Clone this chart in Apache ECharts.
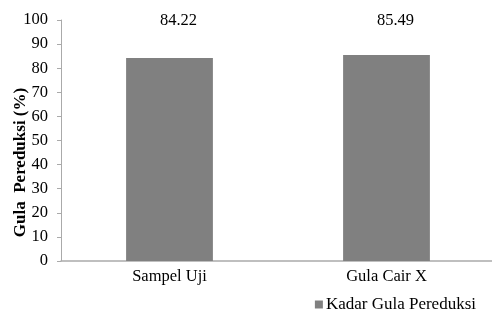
<!DOCTYPE html>
<html><head><meta charset="utf-8">
<script src="https://cdn.jsdelivr.net/npm/echarts@6/dist/echarts.min.js"></script>
<style>html,body{margin:0;padding:0;background:#fff}#c{width:492px;height:318px}</style>
</head><body><div id="c"></div>
<script>
var categories = ['Sampel Uji', 'Gula Cair X'];
var values = [84.22, 85.49];
var yTicks = [0, 10, 20, 30, 40, 50, 60, 70, 80, 90, 100];
var seriesName = 'Kadar Gula Pereduksi';
var yMax = yTicks[yTicks.length - 1];

var chart = echarts.init(document.getElementById('c'));
var font = 'Liberation Serif, Times New Roman, serif';
chart.setOption({
  animation: false,
  textStyle: {fontFamily: font},
  grid: {left: 61, top: 20, width: 434, height: 241, containLabel: false, outerBoundsMode: 'none'},
  legend: {
    data: [seriesName], right: 11, top: 291, itemWidth: 8, itemHeight: 8, itemGap: 4,
    icon: 'rect',
    textStyle: {fontFamily: font, fontSize: 17, color: '#000', padding: [0, 0, 0, -2]}
  },
  xAxis: {
    type: 'category', data: categories,
    axisLine: {lineStyle: {color: '#aaa', width: 1.5}},
    axisTick: {show: false},
    axisLabel: {color: '#000', fontFamily: font, fontSize: 16.5, margin: 7}
  },
  yAxis: {
    type: 'value', min: 0, max: yMax, interval: 10,
    name: 'Gula  Pereduksi (%)', nameLocation: 'middle', nameGap: 32, nameRotate: 90,
    nameMoveOverlap: false,
    nameTextStyle: {fontFamily: font, fontSize: 17, fontWeight: 'bold', color: '#000', padding: [0, 44, 0, 0]},
    axisLine: {show: true, lineStyle: {color: '#aaa'}},
    axisTick: {show: true, inside: false, length: 4, lineStyle: {color: '#aaa'}},
    splitLine: {show: false},
    axisLabel: {color: '#000', fontFamily: font, fontSize: 16.5, margin: 13}
  },
  series: [
    {
      name: seriesName, type: 'bar', data: values, barWidth: '40%',
      itemStyle: {color: '#808080'}
    },
    {
      name: 'labels', type: 'bar', data: values.map(function(){return yMax;}), barWidth: '40%', barGap: '-100%',
      itemStyle: {color: 'rgba(0,0,0,0)'}, silent: true,
      label: {
        show: true, position: 'top', distance: 0, offset: [9, 9],
        fontFamily: font, fontSize: 16.5, color: '#000',
        formatter: function(p){ return values[p.dataIndex].toFixed(2); }
      }
    }
  ]
});
</script></body></html>
